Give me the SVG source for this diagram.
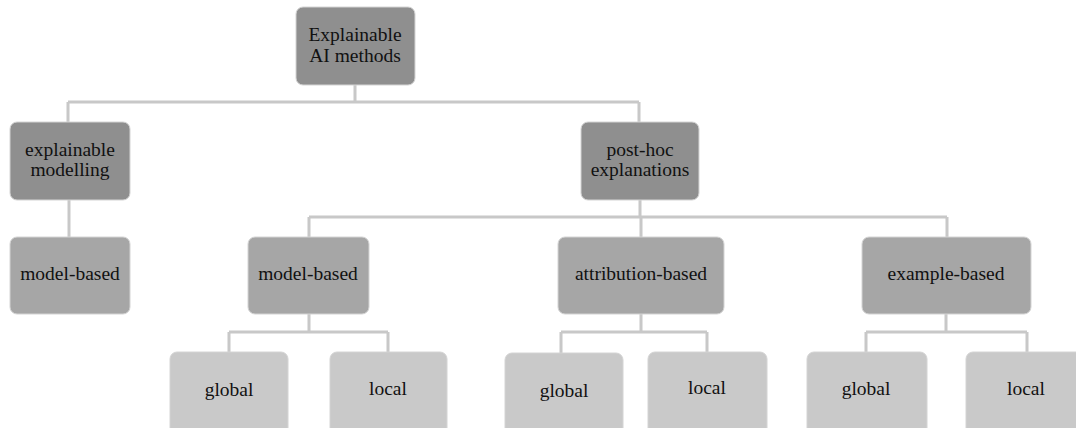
<svg xmlns="http://www.w3.org/2000/svg" width="1076" height="428" viewBox="0 0 1076 428">
<style>
.n rect{stroke:#d4d4d4;stroke-width:1}
.l1 rect{fill:#8f8f8f}
.l2 rect{fill:#a6a6a6}
.l3 rect{fill:#c9c9c9}
text{font-family:"Liberation Serif","Times New Roman","DejaVu Serif",serif;font-size:19.5px;fill:#111111;text-anchor:middle}
#connectors path{fill:none;stroke:#c8c8c8;stroke-width:3}
</style>
<rect width="1076" height="428" fill="#ffffff"/>
<g id="connectors">
<path d="M355 85 V102 M68 102 H639 M68 102 V122 M639 102 V122"/>
<path d="M69 200 V237"/>
<path d="M640 200 V217 M309 217 H947 M309 217 V237 M641 217 V237 M947 217 V237"/>
<path d="M309 314 V332 M229 332 H388 M229 332 V352 M388 332 V352"/>
<path d="M641 314 V332 M561 332 H707 M561 332 V353 M707 332 V352"/>
<path d="M946 314 V332 M866 332 H1027 M866 332 V352 M1027 332 V352"/>
</g>
<g id="root" class="n l1"><rect x="296" y="7" width="119" height="78" rx="7"/><text x="355" y="41">Explainable</text><text x="355" y="62">AI methods</text></g>
<g id="explainable-modelling" class="n l1"><rect x="10" y="122" width="120" height="78" rx="7"/><text x="70" y="156">explainable</text><text x="70" y="176">modelling</text></g>
<g id="post-hoc" class="n l1"><rect x="581" y="122" width="118" height="78" rx="7"/><text x="640" y="156">post-hoc</text><text x="640" y="176">explanations</text></g>
<g id="model-based-left" class="n l2"><rect x="10" y="237" width="120" height="77" rx="7"/><text x="70" y="280">model-based</text></g>
<g id="model-based" class="n l2"><rect x="248" y="237" width="121" height="77" rx="7"/><text x="308" y="280">model-based</text></g>
<g id="attribution-based" class="n l2"><rect x="558" y="237" width="166" height="77" rx="7"/><text x="641" y="280">attribution-based</text></g>
<g id="example-based" class="n l2"><rect x="862" y="237" width="169" height="77" rx="7"/><text x="946" y="280">example-based</text></g>
<g id="mb-global" class="n l3"><rect x="170" y="352" width="118" height="84" rx="7"/><text x="229" y="396">global</text></g>
<g id="mb-local" class="n l3"><rect x="330" y="352" width="117" height="84" rx="7"/><text x="388" y="395">local</text></g>
<g id="ab-global" class="n l3"><rect x="505" y="353" width="118" height="84" rx="7"/><text x="564" y="397">global</text></g>
<g id="ab-local" class="n l3"><rect x="648" y="352" width="119" height="84" rx="7"/><text x="707" y="394">local</text></g>
<g id="eb-global" class="n l3"><rect x="807" y="352" width="120" height="84" rx="7"/><text x="866" y="395">global</text></g>
<g id="eb-local" class="n l3"><rect x="966" y="352" width="120" height="84" rx="7"/><text x="1026" y="395">local</text></g>
</svg>
